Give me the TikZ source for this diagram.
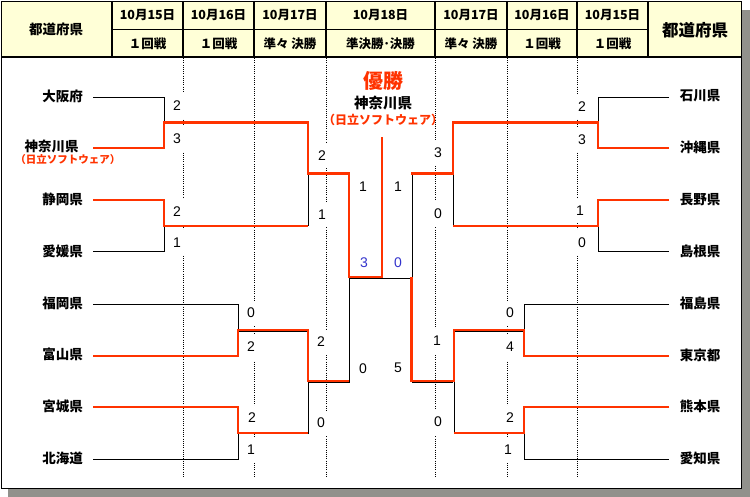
\documentclass[tikz,border=0pt]{standalone}
\usepackage{fontspec}
\setmainfont{Liberation Sans}
\newfontfamily\jp{Noto Sans CJK JP}
\definecolor{wred}{RGB}{255,51,0}
\definecolor{fblue}{RGB}{51,51,204}
\definecolor{hdr}{RGB}{255,255,215}
\definecolor{shad}{RGB}{145,145,140}
\begin{document}
\begin{tikzpicture}[x=1pt,y=-1pt,
  team/.style={font=\jp\bfseries\fontsize{13.5}{14}\selectfont, inner sep=0pt},
  sub/.style={font=\jp\bfseries\fontsize{10.5}{11}\selectfont, text=wred, inner sep=0pt},
  score/.style={font=\fontsize{14}{14}\selectfont, fill=white, minimum width=20pt, minimum height=25pt, inner sep=0pt},
  fscore/.style={score, text=fblue},
  hd/.style={font=\jp\bfseries\fontsize{12.5}{13}\selectfont, inner sep=0pt},
  lose/.style={line width=1pt, black},
  win/.style={line width=2.6pt, wred, line join=miter},
  guide/.style={line width=0.8pt, dash pattern=on 1pt off 1.2pt},
  frame/.style={line width=1.5pt, black},
  thin/.style={line width=0.8pt, black}
]
\useasboundingbox (0,0) rectangle (750,497);
% shadow and frame
\fill[shad] (8,10) rectangle (750,497);
\fill[white] (1,1) rectangle (742,489);
\fill[hdr] (1,1) rectangle (742,57);
\draw[thin] (112,29) -- (648,29);
\foreach \x in {112,183,254,326,435,507,577,648} \draw[frame] (\x,1) -- (\x,57);
\draw[frame] (1,57) -- (742,57);
\draw[frame] (1.5,1.5) rectangle (741.5,488.5);
% header text
\node[hd, font=\jp\bfseries\fontsize{13.5}{14}\selectfont] (hl) at (56,29) {都道府県};
\node[hd, font=\jp\bfseries\fontsize{16.5}{17}\selectfont] (hr) at (695,30) {都道府県};
\node[hd] (d1) at (147.5,15) {10月15日};
\node[hd] (d2) at (218.5,15) {10月16日};
\node[hd] (d3) at (290,15) {10月17日};
\node[hd] (d4) at (380.5,15) {10月18日};
\node[hd] (d5) at (471,15) {10月17日};
\node[hd] (d6) at (542,15) {10月16日};
\node[hd] (d7) at (612.5,15) {10月15日};
\node[hd] (r1) at (147.5,44) {１回戦};
\node[hd] (r2) at (218.5,44) {１回戦};
\node[hd] (r3) at (290,44) {準々 決勝};
\node[hd] (r4) at (380.5,44) {準決勝･決勝};
\node[hd] (r5) at (471,44) {準々 決勝};
\node[hd] (r6) at (542,44) {１回戦};
\node[hd] (r7) at (612.5,44) {１回戦};
% dotted guides
\foreach \x in {183,254,326,435,507,577} \draw[guide] (\x,58) -- (\x,477);
% scores (white backing breaks the guides)
\node[score] (s1) at (177,106) {2};
\node[score] (s2) at (177,139) {3};
\node[score] (s3) at (177,212) {2};
\node[score] (s4) at (177,243) {1};
\node[score] (s5) at (251,313) {0};
\node[score] (s6) at (251,347) {2};
\node[score] (s7) at (252,418) {2};
\node[score] (s8) at (251,450) {1};
\node[score] (q1) at (322,156) {2};
\node[score] (q2) at (322,215) {1};
\node[score] (q3) at (321,342) {2};
\node[score] (q4) at (321,423) {0};
\node[score] (sf1) at (363,187) {1};
\node[score] (sf2) at (363,369) {0};
\node[fscore] (f1) at (364,263) {3};
\node[fscore] (f2) at (398,263) {0};
\node[score] (sf3) at (398,187) {1};
\node[score] (sf4) at (398,368) {5};
\node[score] (q5) at (438,153) {3};
\node[score] (q6) at (438,214) {0};
\node[score] (q7) at (437,341) {1};
\node[score] (q8) at (438,422) {0};
\node[score] (t1) at (582,107) {2};
\node[score] (t2) at (582,140) {3};
\node[score] (t3) at (580,211) {1};
\node[score] (t4) at (582,243) {0};
\node[score] (t5) at (510,313) {0};
\node[score] (t6) at (510,347) {4};
\node[score] (t7) at (510,418) {2};
\node[score] (t8) at (508,450) {1};
% teams left
\node[team] (osaka) at (62.5,96) {大阪府};
\node[team] (kanagawa) at (51.5,146) {神奈川県};
\node[sub] (hitachi) at (68,160) {（日立ソフトウェア）};
\node[team] (shizuoka) at (62.5,199) {静岡県};
\node[team] (ehime) at (62.5,251) {愛媛県};
\node[team] (fukuoka) at (62.5,303) {福岡県};
\node[team] (toyama) at (62.5,354) {富山県};
\node[team] (miyagi) at (62.5,406) {宮城県};
\node[team] (hokkaido) at (62.5,458) {北海道};
% teams right
\node[team] (ishikawa) at (700,96) {石川県};
\node[team] (okinawa) at (700,147) {沖縄県};
\node[team] (nagano) at (700,200) {長野県};
\node[team] (shimane) at (700,251) {島根県};
\node[team] (fukushima) at (700,303) {福島県};
\node[team] (tokyo) at (700,355) {東京都};
\node[team] (kumamoto) at (700,406) {熊本県};
\node[team] (aichi) at (700,458) {愛知県};
% champion
\node[team, font=\jp\bfseries\fontsize{20}{20}\selectfont, text=wred] (yusho) at (383,81) {優勝};
\node[team, font=\jp\bfseries\fontsize{14.5}{15}\selectfont] (champ) at (383,103) {神奈川県};
\node[sub, font=\jp\bfseries\fontsize{12}{12}\selectfont] (champsub) at (383,120) {（日立ソフトウェア）};
% bracket skeleton (black)
\draw[lose] (93,98) -- (164,98) -- (164,148) -- (93,148);
\draw[lose] (93,200) -- (164,200) -- (164,252) -- (93,252);
\draw[lose] (93,304) -- (238,304) -- (238,356) -- (93,356);
\draw[lose] (93,407) -- (238,407) -- (238,459) -- (93,459);
\draw[lose] (164,124) -- (308,124) -- (308,226) -- (164,226);
\draw[lose] (238,331) -- (308,331) -- (308,433) -- (238,433);
\draw[lose] (308,175) -- (349,175) -- (349,382) -- (308,382);
\draw[lose] (349,278.5) -- (412,278.5);
\draw[lose] (453,175) -- (412,175) -- (412,382) -- (453,382);
\draw[lose] (598,124) -- (453,124) -- (453,226) -- (598,226);
\draw[lose] (524,331) -- (454,331) -- (454,433) -- (524,433);
\draw[lose] (669,98) -- (598,98) -- (598,148) -- (669,148);
\draw[lose] (669,200) -- (598,200) -- (598,252) -- (669,252);
\draw[lose] (669,304) -- (524,304) -- (524,356) -- (669,356);
\draw[lose] (669,407) -- (524,407) -- (524,459) -- (669,459);
% winners (red)
\draw[win] (93,148) -- (164,148) -- (164,122.5) -- (308,122.5) -- (308,173.5) -- (349,173.5) -- (349,277) -- (382,277) -- (382,137);
\draw[win] (93,200) -- (164,200) -- (164,226) -- (308,226);
\draw[win] (93,356) -- (238,356) -- (238,330) -- (308,330) -- (308,381) -- (349,381);
\draw[win] (93,407) -- (238,407) -- (238,433) -- (308,433);
\draw[win] (669,148) -- (598,148) -- (598,122.5) -- (453,122.5) -- (453,173.5) -- (411,173.5);
\draw[win] (669,200) -- (598,200) -- (598,226) -- (453,226);
\draw[win] (669,356) -- (524,356) -- (524,330) -- (454,330) -- (454,381) -- (411.5,381) -- (411.5,277);
\draw[win] (669,407) -- (524,407) -- (524,433) -- (454,433);
\end{tikzpicture}
\end{document}
